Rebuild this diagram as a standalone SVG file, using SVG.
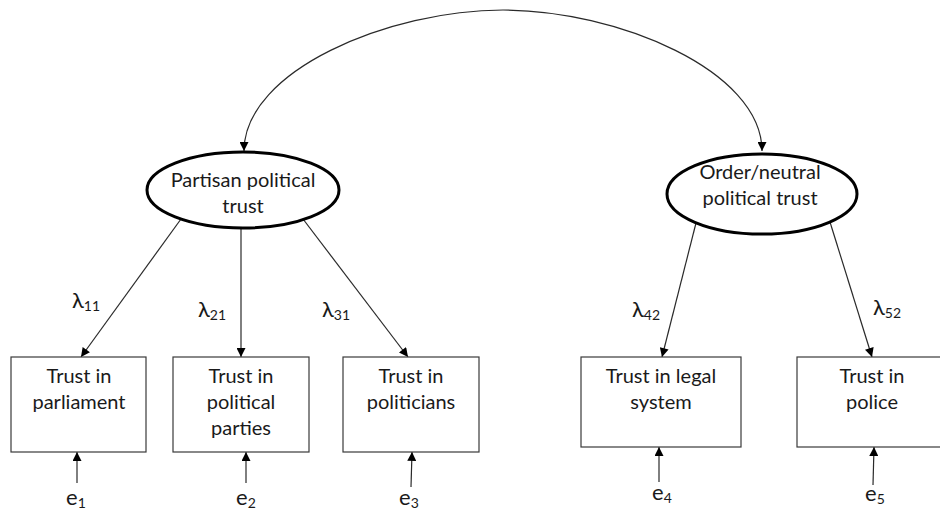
<svg xmlns="http://www.w3.org/2000/svg" width="940" height="514" viewBox="0 0 940 514">
  <style>
    .bg { fill: #ffffff; }
    .latent { fill: #ffffff; stroke: #000000; stroke-width: 3; }
    .obs { fill: #ffffff; stroke: #3a3a3a; stroke-width: 1.2; }
    .lbl { font-family: Lato, "Liberation Sans", sans-serif; font-size: 20px; fill: #1a1a1a; text-anchor: middle; }
    .sym { font-family: Lato, "Liberation Sans", sans-serif; font-size: 22px; fill: #1a1a1a; }
    .sub { font-size: 14px; }
    .edge { fill: none; stroke: #2a2a2a; stroke-width: 1.2; marker-end: url(#arrow); }
    .both { marker-start: url(#arrow); }
  </style>
  <defs>
    <marker id="arrow" viewBox="0 0 10 10" refX="10" refY="5" markerWidth="10" markerHeight="9" markerUnits="userSpaceOnUse" orient="auto-start-reverse">
      <path d="M0,0 L10,5 L0,10 z" fill="#000000"/>
    </marker>
  </defs>
  <rect class="bg" x="0" y="0" width="940" height="514"/>

  <!-- connectors -->
  <g id="connectors">
    <!-- covariance between the two latent factors -->
    <path class="edge both" d="M 244 151 C 244 70, 390 10, 503 10 C 616 10, 762 70, 762 151"/>
    <!-- factor loadings -->
    <line class="edge" x1="181" y1="219" x2="81" y2="357"/>
    <line class="edge" x1="241" y1="228" x2="241" y2="357"/>
    <line class="edge" x1="303" y1="219" x2="408" y2="357"/>
    <line class="edge" x1="696" y1="223" x2="662" y2="357"/>
    <line class="edge" x1="830" y1="222" x2="872" y2="357"/>
    <!-- error terms -->
    <line class="edge" x1="77" y1="483" x2="77" y2="452"/>
    <line class="edge" x1="246" y1="483" x2="246" y2="452"/>
    <line class="edge" x1="411" y1="487" x2="412" y2="452"/>
    <line class="edge" x1="659" y1="482" x2="659" y2="447"/>
    <line class="edge" x1="873" y1="485" x2="874" y2="447"/>
  </g>

  <!-- loading labels -->
  <g id="loadings">
    <text class="sym" x="72" y="308">λ<tspan class="sub" dy="3">11</tspan></text>
    <text class="sym" x="198" y="317">λ<tspan class="sub" dy="3">21</tspan></text>
    <text class="sym" x="322" y="317">λ<tspan class="sub" dy="3">31</tspan></text>
    <text class="sym" x="632" y="317">λ<tspan class="sub" dy="3">42</tspan></text>
    <text class="sym" x="873" y="315">λ<tspan class="sub" dy="3">52</tspan></text>
  </g>

  <!-- latent factors -->
  <g id="partisan">
    <ellipse class="latent" cx="243" cy="190" rx="96" ry="38"/>
    <text class="lbl" x="243" y="187">Partisan political</text>
    <text class="lbl" x="243" y="213">trust</text>
  </g>
  <g id="order">
    <ellipse class="latent" cx="762" cy="194" rx="95" ry="40"/>
    <text class="lbl" x="760" y="179">Order/neutral</text>
    <text class="lbl" x="760" y="205">political trust</text>
  </g>

  <!-- observed indicators -->
  <g id="parliament">
    <rect class="obs" x="11" y="357" width="135" height="95"/>
    <text class="lbl" x="79" y="383">Trust in</text>
    <text class="lbl" x="79" y="409">parliament</text>
  </g>
  <g id="parties">
    <rect class="obs" x="173" y="357" width="136" height="95"/>
    <text class="lbl" x="241" y="383">Trust in</text>
    <text class="lbl" x="241" y="409">political</text>
    <text class="lbl" x="241" y="435">parties</text>
  </g>
  <g id="politicians">
    <rect class="obs" x="343" y="357" width="136" height="95"/>
    <text class="lbl" x="411" y="383">Trust in</text>
    <text class="lbl" x="411" y="409">politicians</text>
  </g>
  <g id="legal">
    <rect class="obs" x="581" y="357" width="160" height="90"/>
    <text class="lbl" x="661" y="383">Trust in legal</text>
    <text class="lbl" x="661" y="409">system</text>
  </g>
  <g id="police">
    <rect class="obs" x="797" y="357" width="152" height="90"/>
    <text class="lbl" x="872" y="383">Trust in</text>
    <text class="lbl" x="872" y="409">police</text>
  </g>

  <!-- error labels -->
  <g id="errors">
    <text class="sym" x="66" y="505">e<tspan class="sub" dy="3">1</tspan></text>
    <text class="sym" x="236" y="505">e<tspan class="sub" dy="3">2</tspan></text>
    <text class="sym" x="399" y="505">e<tspan class="sub" dy="3">3</tspan></text>
    <text class="sym" x="652" y="500">e<tspan class="sub" dy="3">4</tspan></text>
    <text class="sym" x="865" y="501">e<tspan class="sub" dy="3">5</tspan></text>
  </g>
</svg>
